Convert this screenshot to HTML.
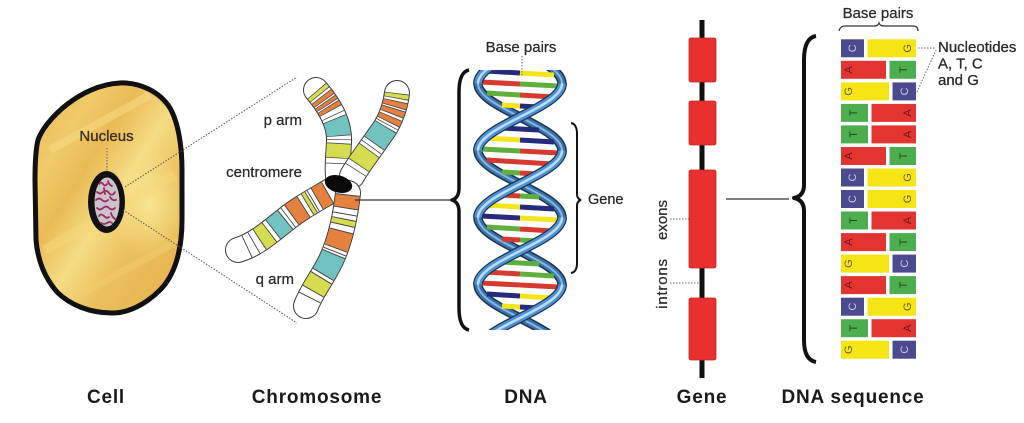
<!DOCTYPE html>
<html>
<head>
<meta charset="utf-8">
<style>
html,body{margin:0;padding:0;background:#fff;}
svg{display:block;}
text{font-family:"Liberation Sans",Arial,sans-serif;}
</style>
</head>
<body>
<svg width="1024" height="423" viewBox="0 0 1024 423" xmlns="http://www.w3.org/2000/svg">
<defs>
  <linearGradient id="cellg" x1="0" y1="0" x2="1" y2="1">
    <stop offset="0" stop-color="#e6b64e"/>
    <stop offset="0.22" stop-color="#f0cb6a"/>
    <stop offset="0.36" stop-color="#e9bb55"/>
    <stop offset="0.52" stop-color="#f5dc84"/>
    <stop offset="0.68" stop-color="#ebc05c"/>
    <stop offset="1" stop-color="#e3b04a"/>
  </linearGradient>
  <radialGradient id="cellh" cx="0.5" cy="0.5" r="0.5">
    <stop offset="0" stop-color="#f9e896" stop-opacity="0.9"/>
    <stop offset="1" stop-color="#f9e896" stop-opacity="0"/>
  </radialGradient>
  <clipPath id="cellclip">
    <path d="M120,83 C140,82 160,92 170,108 C178,122 182,145 182,170 L182,220 C182,250 175,275 160,290 C145,305 128,313 112,313 C90,313 70,305 57,292 C45,278 38,262 36,240 L35,180 C35,160 36,148 38,140 C45,120 80,85 120,83 Z"/>
  </clipPath>
  <clipPath id="dnaclip">
    <rect x="455" y="70" width="125" height="260"/>
  </clipPath>
</defs>

<!-- ================= CELL ================= -->
<path d="M120,83 C140,82 160,92 170,108 C178,122 182,145 182,170 L182,220 C182,250 175,275 160,290 C145,305 128,313 112,313 C90,313 70,305 57,292 C45,278 38,262 36,240 L35,180 C35,160 36,148 38,140 C45,120 80,85 120,83 Z" fill="url(#cellg)"/>
<g clip-path="url(#cellclip)">
  <ellipse cx="150" cy="205" rx="40" ry="55" fill="url(#cellh)"/>
  <path d="M50,150 L150,95" stroke="#f6da84" stroke-width="8" opacity="0.55"/>
  <path d="M45,250 L175,175" stroke="#f5d77c" stroke-width="10" opacity="0.5"/>
  <path d="M70,300 L180,240" stroke="#f2cf72" stroke-width="7" opacity="0.45"/>
</g>
<path d="M120,83 C140,82 160,92 170,108 C178,122 182,145 182,170 L182,220 C182,250 175,275 160,290 C145,305 128,313 112,313 C90,313 70,305 57,292 C45,278 38,262 36,240 L35,180 C35,160 36,148 38,140 C45,120 80,85 120,83 Z" fill="none" stroke="#111" stroke-width="5" stroke-linejoin="round"/>

<!-- nucleus -->
<ellipse cx="106.5" cy="202" rx="18.5" ry="31" fill="#111"/>
<ellipse cx="107" cy="202" rx="12.5" ry="24.5" fill="#cdc4ca"/>
<g fill="none" stroke="#9b2a68" stroke-width="1.8" stroke-linecap="round">
  <path d="M99,184 q2,-3 4,0 t4,0"/>
  <path d="M108,181 q1,4 4,5"/>
  <path d="M97,192 q3,3 6,0 t6,1 t6,-1"/>
  <path d="M96,200 q3,-3 6,0 t6,0"/>
  <path d="M110,197 q2,4 6,3"/>
  <path d="M97,208 q3,3 6,0 t6,0 t6,0"/>
  <path d="M99,216 q2,-3 5,0 t5,1"/>
  <path d="M111,213 q1,4 4,6"/>
  <path d="M101,223 q3,2 6,0 t5,0"/>
  <path d="M104,188 l1,6"/>
</g>

<!-- Nucleus label -->
<text x="106.5" y="141" font-size="15" fill="#3f2f22" text-anchor="middle" stroke="#3f2f22" stroke-width="0.35">Nucleus</text>
<line x1="107" y1="148" x2="107" y2="171" stroke="#666" stroke-width="1" stroke-dasharray="1.5 1.5"/>

<!-- dotted zoom lines -->
<line x1="125" y1="187" x2="297" y2="77" stroke="#555" stroke-width="1" stroke-dasharray="1.5 1.5"/>
<line x1="123" y1="210" x2="297" y2="323" stroke="#555" stroke-width="1" stroke-dasharray="1.5 1.5"/>

<!-- ================= CHROMOSOME ================= -->
<!-- UL arm -->
<g fill="none">
  <path d="M316,90 C328,104 340,122 339,142 C338,160 337,168 338,176" stroke="#3a3a3a" stroke-width="26" stroke-linecap="round"/>
  <path d="M316,90 C328,104 340,122 339,142 C338,160 337,168 338,176" stroke="#fff" stroke-width="24" stroke-linecap="round"/>
  <path pathLength="100" d="M316,90 C328,104 340,122 339,142 C338,160 337,168 338,176" stroke="#444" stroke-width="24" stroke-dasharray="0 1.2 5.6 2.4 5.6 1.4 4.6 1.4 5.6 5.2 0.8 3.4 19.6 3.2 0.8 3.4 16.6 5.2 0.8 100"/>
  <path pathLength="100" d="M316,90 C328,104 340,122 339,142 C338,160 337,168 338,176" stroke="#d6dc50" stroke-width="24" stroke-dasharray="0 2 4 59 15 100"/>
  <path pathLength="100" d="M316,90 C328,104 340,122 339,142 C338,160 337,168 338,176" stroke="#e5813f" stroke-width="24" stroke-dasharray="0 10 4 3 3 3 4 100"/>
  <path pathLength="100" d="M316,90 C328,104 340,122 339,142 C338,160 337,168 338,176" stroke="#72c2c0" stroke-width="24" stroke-dasharray="0 38 18 100"/>
</g>
<!-- UR arm -->
<g fill="none">
  <path d="M397,93 C395,110 388,125 380,135 C370,150 360,162 352,176" stroke="#3a3a3a" stroke-width="26" stroke-linecap="round"/>
  <path d="M397,93 C395,110 388,125 380,135 C370,150 360,162 352,176" stroke="#fff" stroke-width="24" stroke-linecap="round"/>
  <path pathLength="100" d="M397,93 C395,110 388,125 380,135 C370,150 360,162 352,176" stroke="#444" stroke-width="24" stroke-dasharray="0 0.2 5.6 2.4 6.6 1.4 6.6 2.4 6.6 2.2 0.8 2.4 21.6 4.2 0.8 3.4 19.6 5.2 0.8 100"/>
  <path pathLength="100" d="M397,93 C395,110 388,125 380,135 C370,150 360,162 352,176" stroke="#d6dc50" stroke-width="24" stroke-dasharray="0 1 4 63 18 100"/>
  <path pathLength="100" d="M397,93 C395,110 388,125 380,135 C370,150 360,162 352,176" stroke="#e5813f" stroke-width="24" stroke-dasharray="0 9 5 3 5 4 5 100"/>
  <path pathLength="100" d="M397,93 C395,110 388,125 380,135 C370,150 360,162 352,176" stroke="#72c2c0" stroke-width="24" stroke-dasharray="0 38 20 100"/>
</g>
<!-- LL arm -->
<g fill="none">
  <path d="M332,190 C315,200 300,208 285,220 C270,232 255,245 238,250" stroke="#3a3a3a" stroke-width="26" stroke-linecap="round"/>
  <path d="M332,190 C315,200 300,208 285,220 C270,232 255,245 238,250" stroke="#fff" stroke-width="24" stroke-linecap="round"/>
  <path pathLength="100" d="M332,190 C315,200 300,208 285,220 C270,232 255,245 238,250" stroke="#444" stroke-width="24" stroke-dasharray="0 4.2 11.6 3.2 0.8 1.4 4.6 3.4 13.6 3.2 0.8 2.4 14.6 3.4 11.6 5.2 0.8 6.2 0.8 100"/>
  <path pathLength="100" d="M332,190 C315,200 300,208 285,220 C270,232 255,245 238,250" stroke="#d6dc50" stroke-width="24" stroke-dasharray="0 22 3 43 10 100"/>
  <path pathLength="100" d="M332,190 C315,200 300,208 285,220 C270,232 255,245 238,250" stroke="#e5813f" stroke-width="24" stroke-dasharray="0 5 10 15 12 100"/>
  <path pathLength="100" d="M332,190 C315,200 300,208 285,220 C270,232 255,245 238,250" stroke="#72c2c0" stroke-width="24" stroke-dasharray="0 50 13 100"/>
</g>
<!-- LR arm -->
<g fill="none">
  <path d="M348,193 C345,220 340,240 332,258 C324,276 312,290 306,306" stroke="#3a3a3a" stroke-width="26" stroke-linecap="round"/>
  <path d="M348,193 C345,220 340,240 332,258 C324,276 312,290 306,306" stroke="#fff" stroke-width="24" stroke-linecap="round"/>
  <path pathLength="100" d="M348,193 C345,220 340,240 332,258 C324,276 312,290 306,306" stroke="#444" stroke-width="24" stroke-dasharray="0 1.2 11.6 4.2 0.8 3.4 5.6 4.4 15.6 2.2 0.8 1.4 19.6 2.4 13.6 5.2 0.8 100"/>
  <path pathLength="100" d="M348,193 C345,220 340,240 332,258 C324,276 312,290 306,306" stroke="#d6dc50" stroke-width="24" stroke-dasharray="0 22 4 48 12 100"/>
  <path pathLength="100" d="M348,193 C345,220 340,240 332,258 C324,276 312,290 306,306" stroke="#e5813f" stroke-width="24" stroke-dasharray="0 2 10 20 14 100"/>
  <path pathLength="100" d="M348,193 C345,220 340,240 332,258 C324,276 312,290 306,306" stroke="#72c2c0" stroke-width="24" stroke-dasharray="0 52 18 100"/>
</g>
<!-- centromere -->
<ellipse cx="338.5" cy="184" rx="14" ry="8.5" fill="#0a0a0a" transform="rotate(15 338.5 184)"/>

<!-- chromosome labels -->
<text x="302" y="125" font-size="15" fill="#2a2a2a" text-anchor="end" stroke="#2a2a2a" stroke-width="0.25">p arm</text>
<text x="302" y="177" font-size="15" fill="#2a2a2a" text-anchor="end" stroke="#2a2a2a" stroke-width="0.25">centromere</text>
<text x="294" y="284" font-size="15" fill="#2a2a2a" text-anchor="end" stroke="#2a2a2a" stroke-width="0.25">q arm</text>

<!-- connector chromosome -> DNA -->
<line x1="355" y1="200" x2="451" y2="200" stroke="#333" stroke-width="1.3"/>

<!-- ================= DNA ================= -->
<path d="M469,70 Q459,72 459,92 L459,188 Q459,198 452,200 Q459,202 459,212 L459,308 Q459,328 469,330" fill="none" stroke="#111" stroke-width="3.5" stroke-linejoin="round"/>

<g clip-path="url(#dnaclip)" fill="none">
  <!-- back strands -->
  <g stroke-linecap="butt">
    <path d="M478,83.5 C478,95.62 498.5,106.07 520,117 C541.5,127.93 562,138.38 562,150.5 M478,217.5 C478,229.62 498.5,240.07 520,251 C541.5,261.93 562,272.38 562,284.5 M478,16.5 C478,28.62 498.5,39.07 520,50 C541.5,60.93 562,71.38 562,83.5 M478,150.5 C478,162.62 498.5,173.07 520,184 C541.5,194.93 562,205.38 562,217.5 M478,284.5 C478,296.62 498.5,307.07 520,318 C541.5,328.93 562,339.38 562,351.5" stroke="#1b3450" stroke-width="9.5"/>
    <path d="M478,83.5 C478,95.62 498.5,106.07 520,117 C541.5,127.93 562,138.38 562,150.5 M478,217.5 C478,229.62 498.5,240.07 520,251 C541.5,261.93 562,272.38 562,284.5 M478,16.5 C478,28.62 498.5,39.07 520,50 C541.5,60.93 562,71.38 562,83.5 M478,150.5 C478,162.62 498.5,173.07 520,184 C541.5,194.93 562,205.38 562,217.5 M478,284.5 C478,296.62 498.5,307.07 520,318 C541.5,328.93 562,339.38 562,351.5" stroke="#3b73ad" stroke-width="6.5"/>
    <path d="M478,83.5 C478,95.62 498.5,106.07 520,117 C541.5,127.93 562,138.38 562,150.5 M478,217.5 C478,229.62 498.5,240.07 520,251 C541.5,261.93 562,272.38 562,284.5 M478,16.5 C478,28.62 498.5,39.07 520,50 C541.5,60.93 562,71.38 562,83.5 M478,150.5 C478,162.62 498.5,173.07 520,184 C541.5,194.93 562,205.38 562,217.5 M478,284.5 C478,296.62 498.5,307.07 520,318 C541.5,328.93 562,339.38 562,351.5" stroke="#86b6de" stroke-width="2"/>
  </g>
  <!-- rungs -->
  <g stroke-width="5" stroke-linecap="butt">
    <line x1="486" y1="71" x2="520" y2="73" stroke="#262a7c"/><line x1="520" y1="73" x2="554" y2="75" stroke="#f3e41c"/>
    <line x1="481" y1="82" x2="520" y2="84" stroke="#d63a2f"/><line x1="520" y1="84" x2="559" y2="86" stroke="#5fae3e"/>
    <line x1="487" y1="93" x2="520" y2="95" stroke="#5fae3e"/><line x1="520" y1="95" x2="553" y2="97" stroke="#d63a2f"/>
    <line x1="502" y1="105" x2="520" y2="106" stroke="#f3e41c"/><line x1="520" y1="106" x2="538" y2="107" stroke="#262a7c"/>

    <line x1="501" y1="128" x2="520" y2="129" stroke="#262a7c"/><line x1="520" y1="129" x2="539" y2="130" stroke="#262a7c"/>
    <line x1="486" y1="138" x2="520" y2="140" stroke="#f3e41c"/><line x1="520" y1="140" x2="554" y2="142" stroke="#262a7c"/>
    <line x1="481" y1="149" x2="520" y2="151" stroke="#5fae3e"/><line x1="520" y1="151" x2="559" y2="153" stroke="#d63a2f"/>
    <line x1="487" y1="160" x2="520" y2="162" stroke="#d63a2f"/><line x1="520" y1="162" x2="553" y2="164" stroke="#d63a2f"/>
    <line x1="502" y1="172" x2="520" y2="173" stroke="#5fae3e"/><line x1="520" y1="173" x2="538" y2="174" stroke="#d63a2f"/>

    <line x1="501" y1="195" x2="520" y2="196" stroke="#d63a2f"/><line x1="520" y1="196" x2="539" y2="197" stroke="#5fae3e"/>
    <line x1="486" y1="205" x2="520" y2="207" stroke="#f3e41c"/><line x1="520" y1="207" x2="554" y2="209" stroke="#262a7c"/>
    <line x1="481" y1="216" x2="520" y2="218" stroke="#262a7c"/><line x1="520" y1="218" x2="559" y2="220" stroke="#f3e41c"/>
    <line x1="487" y1="227" x2="520" y2="229" stroke="#5fae3e"/><line x1="520" y1="229" x2="553" y2="231" stroke="#d63a2f"/>
    <line x1="502" y1="239" x2="520" y2="240" stroke="#d63a2f"/><line x1="520" y1="240" x2="538" y2="241" stroke="#5fae3e"/>

    <line x1="501" y1="262" x2="520" y2="263" stroke="#5fae3e"/><line x1="520" y1="263" x2="539" y2="264" stroke="#5fae3e"/>
    <line x1="486" y1="272" x2="520" y2="274" stroke="#d63a2f"/><line x1="520" y1="274" x2="554" y2="276" stroke="#5fae3e"/>
    <line x1="481" y1="283" x2="520" y2="285" stroke="#d63a2f"/><line x1="520" y1="285" x2="559" y2="287" stroke="#d63a2f"/>
    <line x1="487" y1="294" x2="520" y2="296" stroke="#262a7c"/><line x1="520" y1="296" x2="553" y2="298" stroke="#f3e41c"/>
    <line x1="502" y1="306" x2="520" y2="307" stroke="#f3e41c"/><line x1="520" y1="307" x2="538" y2="308" stroke="#262a7c"/>
  </g>
  <!-- front strands -->
  <g stroke-linecap="butt">
    <path d="M562,83.5 C562,95.62 541.5,106.07 520,117 C498.5,127.93 478,138.38 478,150.5 M562,150.5 C562,162.62 541.5,173.07 520,184 C498.5,194.93 478,205.38 478,217.5 M562,217.5 C562,229.62 541.5,240.07 520,251 C498.5,261.93 478,272.38 478,284.5 M562,284.5 C562,296.62 541.5,307.07 520,318 C498.5,328.93 478,339.38 478,351.5 M562,16.5 C562,28.62 541.5,39.07 520,50 C498.5,60.93 478,71.38 478,83.5" stroke="#1b3450" stroke-width="10"/>
    <path d="M562,83.5 C562,95.62 541.5,106.07 520,117 C498.5,127.93 478,138.38 478,150.5 M562,150.5 C562,162.62 541.5,173.07 520,184 C498.5,194.93 478,205.38 478,217.5 M562,217.5 C562,229.62 541.5,240.07 520,251 C498.5,261.93 478,272.38 478,284.5 M562,284.5 C562,296.62 541.5,307.07 520,318 C498.5,328.93 478,339.38 478,351.5 M562,16.5 C562,28.62 541.5,39.07 520,50 C498.5,60.93 478,71.38 478,83.5" stroke="#4f92d4" stroke-width="7.5"/>
    <path d="M562,83.5 C562,95.62 541.5,106.07 520,117 C498.5,127.93 478,138.38 478,150.5 M562,150.5 C562,162.62 541.5,173.07 520,184 C498.5,194.93 478,205.38 478,217.5 M562,217.5 C562,229.62 541.5,240.07 520,251 C498.5,261.93 478,272.38 478,284.5 M562,284.5 C562,296.62 541.5,307.07 520,318 C498.5,328.93 478,339.38 478,351.5 M562,16.5 C562,28.62 541.5,39.07 520,50 C498.5,60.93 478,71.38 478,83.5" stroke="#bddcf3" stroke-width="2.5"/>
  </g>
</g>

<text x="521" y="52" font-size="15" fill="#2a2a2a" text-anchor="middle" stroke="#2a2a2a" stroke-width="0.25">Base pairs</text>
<line x1="522" y1="56" x2="522" y2="76" stroke="#666" stroke-width="1" stroke-dasharray="1.5 1.5"/>

<!-- gene brace -->
<path d="M571,123 Q577,124 577,134 L577,194 Q577,199 581,200 Q577,201 577,206 L577,263 Q577,272 571,273" fill="none" stroke="#111" stroke-width="2"/>
<text x="588" y="204" font-size="14.5" fill="#2a2a2a" stroke="#2a2a2a" stroke-width="0.25">Gene</text>

<!-- ================= GENE ================= -->
<rect x="699.5" y="20" width="5" height="358" fill="#111"/>
<g fill="#e8312f" stroke="#c42422" stroke-width="0.8">
  <rect x="689" y="38" width="27" height="44" rx="2"/>
  <rect x="689" y="101" width="27" height="44" rx="2"/>
  <rect x="689" y="170" width="27" height="98" rx="2"/>
  <rect x="689" y="298" width="27" height="62" rx="2"/>
</g>
<text transform="translate(667,220) rotate(-90)" font-size="15" fill="#2a2a2a" text-anchor="middle" stroke="#2a2a2a" stroke-width="0.25">exons</text>
<text transform="translate(667,283.5) rotate(-90)" font-size="15" fill="#2a2a2a" text-anchor="middle" letter-spacing="0.8" stroke="#2a2a2a" stroke-width="0.25">introns</text>
<line x1="670" y1="219" x2="689" y2="219" stroke="#666" stroke-width="1" stroke-dasharray="1.5 1.5"/>
<line x1="670" y1="283" x2="699" y2="283" stroke="#666" stroke-width="1" stroke-dasharray="1.5 1.5"/>

<line x1="726" y1="199" x2="789" y2="199" stroke="#333" stroke-width="1.3"/>

<!-- ================= DNA SEQUENCE ================= -->
<path d="M816,36 Q804,38 804,60 L804,185 Q804,196 794,198 Q804,200 804,211 L804,340 Q804,360 816,362" fill="none" stroke="#111" stroke-width="4" stroke-linejoin="round"/>

<text x="878" y="18" font-size="15" fill="#2a2a2a" text-anchor="middle" stroke="#2a2a2a" stroke-width="0.25">Base pairs</text>
<path d="M839,31 Q840,26 845,26 L874,26 Q878,26 879,23 Q880,26 884,26 L913,26 Q918,26 918,31" fill="none" stroke="#333" stroke-width="1.2"/>

<g font-size="11" text-anchor="middle">
  <rect x="841" y="39.3" width="23" height="18" fill="#4b4a8e"/><rect x="867.5" y="39.3" width="48.5" height="18" fill="#f5e515"/>
  <text transform="translate(856,48.3) rotate(-90)" fill="#c6c6de">C</text><text transform="translate(911,48.3) rotate(-90)" fill="#6b5e12">G</text>
  <rect x="841" y="60.8" width="45" height="18" fill="#e23431"/><rect x="889.5" y="60.8" width="26.5" height="18" fill="#4cae4f"/>
  <text transform="translate(852,69.8) rotate(-90)" fill="#6e1414">A</text><text transform="translate(907,69.8) rotate(-90)" fill="#1d4d1d">T</text>
  <rect x="841" y="82.4" width="48" height="18" fill="#f5e515"/><rect x="892.5" y="82.4" width="23.5" height="18" fill="#4b4a8e"/>
  <text transform="translate(852,91.4) rotate(-90)" fill="#6b5e12">G</text><text transform="translate(908,91.4) rotate(-90)" fill="#c6c6de">C</text>
  <rect x="841" y="103.9" width="27" height="18" fill="#4cae4f"/><rect x="871.5" y="103.9" width="44.5" height="18" fill="#e23431"/>
  <text transform="translate(857,112.9) rotate(-90)" fill="#1d4d1d">T</text><text transform="translate(911,112.9) rotate(-90)" fill="#6e1414">A</text>
  <rect x="841" y="125.4" width="27" height="18" fill="#4cae4f"/><rect x="871.5" y="125.4" width="44.5" height="18" fill="#e23431"/>
  <text transform="translate(857,134.4) rotate(-90)" fill="#1d4d1d">T</text><text transform="translate(911,134.4) rotate(-90)" fill="#6e1414">A</text>
  <rect x="841" y="147" width="45" height="18" fill="#e23431"/><rect x="889.5" y="147" width="26.5" height="18" fill="#4cae4f"/>
  <text transform="translate(852,156) rotate(-90)" fill="#6e1414">A</text><text transform="translate(907,156) rotate(-90)" fill="#1d4d1d">T</text>
  <rect x="841" y="168.5" width="23" height="18" fill="#4b4a8e"/><rect x="867.5" y="168.5" width="48.5" height="18" fill="#f5e515"/>
  <text transform="translate(856,177.5) rotate(-90)" fill="#c6c6de">C</text><text transform="translate(911,177.5) rotate(-90)" fill="#6b5e12">G</text>
  <rect x="841" y="190" width="23" height="18" fill="#4b4a8e"/><rect x="867.5" y="190" width="48.5" height="18" fill="#f5e515"/>
  <text transform="translate(856,199) rotate(-90)" fill="#c6c6de">C</text><text transform="translate(911,199) rotate(-90)" fill="#6b5e12">G</text>
  <rect x="841" y="211.5" width="27" height="18" fill="#4cae4f"/><rect x="871.5" y="211.5" width="44.5" height="18" fill="#e23431"/>
  <text transform="translate(857,220.5) rotate(-90)" fill="#1d4d1d">T</text><text transform="translate(911,220.5) rotate(-90)" fill="#6e1414">A</text>
  <rect x="841" y="233.1" width="45" height="18" fill="#e23431"/><rect x="889.5" y="233.1" width="26.5" height="18" fill="#4cae4f"/>
  <text transform="translate(852,242.1) rotate(-90)" fill="#6e1414">A</text><text transform="translate(907,242.1) rotate(-90)" fill="#1d4d1d">T</text>
  <rect x="841" y="254.6" width="48" height="18" fill="#f5e515"/><rect x="892.5" y="254.6" width="23.5" height="18" fill="#4b4a8e"/>
  <text transform="translate(852,263.6) rotate(-90)" fill="#6b5e12">G</text><text transform="translate(908,263.6) rotate(-90)" fill="#c6c6de">C</text>
  <rect x="841" y="276.1" width="45" height="18" fill="#e23431"/><rect x="889.5" y="276.1" width="26.5" height="18" fill="#4cae4f"/>
  <text transform="translate(852,285.1) rotate(-90)" fill="#6e1414">A</text><text transform="translate(907,285.1) rotate(-90)" fill="#1d4d1d">T</text>
  <rect x="841" y="297.7" width="23" height="18" fill="#4b4a8e"/><rect x="867.5" y="297.7" width="48.5" height="18" fill="#f5e515"/>
  <text transform="translate(856,306.7) rotate(-90)" fill="#c6c6de">C</text><text transform="translate(911,306.7) rotate(-90)" fill="#6b5e12">G</text>
  <rect x="841" y="319.2" width="27" height="18" fill="#4cae4f"/><rect x="871.5" y="319.2" width="44.5" height="18" fill="#e23431"/>
  <text transform="translate(857,328.2) rotate(-90)" fill="#1d4d1d">T</text><text transform="translate(911,328.2) rotate(-90)" fill="#6e1414">A</text>
  <rect x="841" y="340.7" width="48" height="18" fill="#f5e515"/><rect x="892.5" y="340.7" width="23.5" height="18" fill="#4b4a8e"/>
  <text transform="translate(852,349.7) rotate(-90)" fill="#6b5e12">G</text><text transform="translate(908,349.7) rotate(-90)" fill="#c6c6de">C</text>
</g>

<!-- Nucleotides label -->
<line x1="918" y1="48" x2="936" y2="48" stroke="#666" stroke-width="1" stroke-dasharray="1.5 1.5"/>
<line x1="917" y1="92" x2="936" y2="50" stroke="#666" stroke-width="1" stroke-dasharray="1.5 1.5"/>
<g font-size="15" fill="#2a2a2a" stroke="#2a2a2a" stroke-width="0.3">
  <text x="938" y="52">Nucleotides</text>
  <text x="938" y="68.5">A, T, C</text>
  <text x="938" y="85">and G</text>
</g>

<!-- ================= BOTTOM LABELS ================= -->
<g font-size="19" font-weight="bold" fill="#1a1a1a" text-anchor="middle" letter-spacing="0.8">
  <text x="106" y="403">Cell</text>
  <text x="317" y="403">Chromosome</text>
  <text x="526" y="403">DNA</text>
  <text x="702" y="403">Gene</text>
  <text x="853" y="403">DNA sequence</text>
</g>
</svg>
</body>
</html>
